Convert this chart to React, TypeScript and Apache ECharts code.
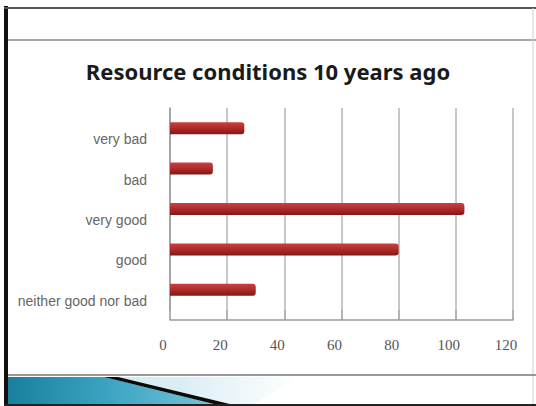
import React, { useEffect, useRef } from "react";
import * as echarts from "echarts";

const categories = ["neither good nor bad", "good", "very good", "bad", "very bad"];
const values = [30, 80, 103, 15, 26];
const titleText = "Resource conditions 10 years ago";
const xMin = 0;
const xMax = 120;
const xInterval = 20;

export default function App() {
  const ref = useRef<HTMLDivElement>(null);
  useEffect(() => {
    if (!ref.current) return;
    const chart = echarts.init(ref.current, undefined, { renderer: "svg" });
    chart.setOption({
      animation: false,
      backgroundColor: "#ffffff",
      title: {
        text: titleText,
        left: "center",
        top: 55,
        textStyle: {
          fontFamily: "Noto Sans",
          fontSize: 22,
          fontWeight: "bold",
          color: "#1a1a1a",
        },
      },
      grid: { left: 170, right: 23, top: 108, bottom: 96 },
      xAxis: {
        type: "value",
        min: xMin,
        max: xMax,
        interval: xInterval,
        offset: 10,
        axisLine: { show: true, lineStyle: { color: "#9a9a9a", width: 1.5 } },
        axisTick: { show: true, inside: true, length: 10, lineStyle: { color: "#9a9a9a", width: 1.5 } },
        splitLine: { show: true, lineStyle: { color: "#b4b4b4", width: 1.5 } },
        axisLabel: {
          margin: 17,
          padding: [0, 14, 0, 0],
          fontFamily: "Liberation Serif",
          fontSize: 15,
          color: "#555555",
        },
      },
      yAxis: {
        type: "category",
        data: categories,
        offset: 6,
        axisLine: { show: true, lineStyle: { color: "#9a9a9a", width: 1.5 } },
        axisTick: { show: false },
        axisLabel: {
          margin: 17,
          verticalAlign: "top",
          lineHeight: 22,
          fontFamily: "Liberation Sans",
          fontSize: 14,
          color: "#666666",
        },
      },
      series: [
        {
          type: "bar",
          data: values,
          barWidth: 12,
          itemStyle: {
            borderRadius: [0, 3, 3, 0],
            color: new echarts.graphic.LinearGradient(0, 0, 0, 1, [
              { offset: 0, color: "#c84242" },
              { offset: 0.5, color: "#b02a2a" },
              { offset: 1, color: "#801818" },
            ]),
          },
        },
      ],
      graphic: [
        { type: "rect", shape: { x: 0, y: 0, width: 536, height: 406 }, style: { fill: "#ffffff" }, z: -10, silent: true },
        { type: "rect", shape: { x: 4, y: 6, width: 4, height: 400 }, style: { fill: "#111111" }, silent: true },
        { type: "line", shape: { x1: 4, y1: 8, x2: 536, y2: 8 }, style: { stroke: "#555555", lineWidth: 2 }, silent: true },
        { type: "line", shape: { x1: 8, y1: 40, x2: 536, y2: 40 }, style: { stroke: "#8a8a8a", lineWidth: 1.5 }, silent: true },
        { type: "line", shape: { x1: 533, y1: 8, x2: 533, y2: 406 }, style: { stroke: "#d0d0d0", lineWidth: 1 }, silent: true },
        { type: "line", shape: { x1: 8, y1: 375, x2: 536, y2: 375 }, style: { stroke: "#777777", lineWidth: 1.5 }, silent: true },
        {
          type: "polygon",
          shape: { points: [[8, 377], [300, 377], [250, 406], [8, 406]] },
          style: {
            fill: new echarts.graphic.LinearGradient(0, 0, 1, 0, [
              { offset: 0, color: "#c4e4ef" },
              { offset: 0.6, color: "#dceef5" },
              { offset: 1, color: "#ffffff" },
            ]),
          },
          silent: true,
        },
        {
          type: "polygon",
          shape: { points: [[8, 377], [104, 377], [222, 406], [8, 406]] },
          style: {
            fill: new echarts.graphic.LinearGradient(0, 0, 1, 0, [
              { offset: 0, color: "#1a7f9c" },
              { offset: 0.5, color: "#3ea6c4" },
              { offset: 1, color: "#7cc4da" },
            ]),
          },
          silent: true,
        },
        {
          type: "polygon",
          shape: { points: [[104, 377], [118, 377], [238, 406], [222, 406]] },
          style: { fill: "#0a0a0a" },
          silent: true,
        },
        { type: "line", shape: { x1: 4, y1: 405, x2: 536, y2: 405 }, style: { stroke: "#222222", lineWidth: 2 }, silent: true },
      ],
    });
    return () => chart.dispose();
  }, []);
  return (
    <div
      ref={ref}
      style={{ position: "fixed", left: 0, top: 0, width: 536, height: 406 }}
    />
  );
}
